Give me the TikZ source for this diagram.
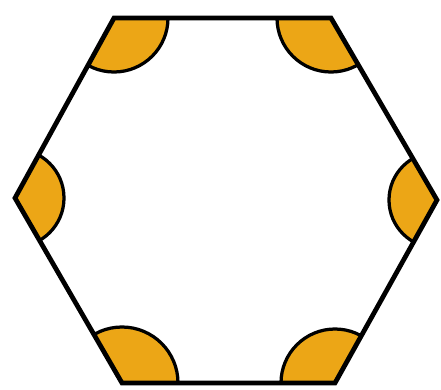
\documentclass[tikz,border=0pt]{standalone}
\definecolor{sect}{RGB}{236,166,22}
\begin{document}
\begin{tikzpicture}[x=0.02cm,y=-0.02cm,
  hexline/.style={line width=0.095cm, line join=miter},
  arcline/.style={line width=0.065cm}]
\useasboundingbox (0,0) rectangle (441,390);
\coordinate (TL) at (114,18);
\coordinate (TR) at (331,18);
\coordinate (R) at (437,200);
\coordinate (BR) at (335,383);
\coordinate (BL) at (122,383);
\coordinate (L) at (15,198);
\begin{scope}
  \clip (TL) -- (TR) -- (R) -- (BR) -- (BL) -- (L) -- cycle;
  \foreach \v/\r in {TL/54,TR/54,BR/54,BL/56,L/49,R/48}{
    \fill[sect] (\v) circle (\r);
    \draw[arcline] (\v) circle (\r);
  }
\end{scope}
\draw[hexline] (TL) -- (TR) -- (R) -- (BR) -- (BL) -- (L) -- cycle;
\end{tikzpicture}
\end{document}
